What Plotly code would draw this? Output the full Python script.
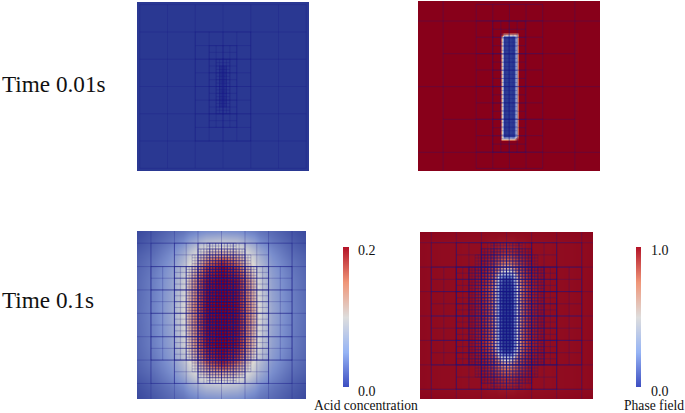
import plotly.graph_objects as go

W, H = 685, 413

# ---- field samples (normalised 0..1); rows run top to bottom ----
ACID_EARLY_X = [0, 1]
ACID_EARLY_Y = [0, 1]
ACID_EARLY_Z = [[0.0, 0.0], [0.0, 0.0]]

PHASE_EARLY_X = [0, .449, .460, .474, .530, .544, .556, 1]
PHASE_EARLY_Y = [0, .183, .198, .213, .795, .81, .825, 1]
PHASE_EARLY_Z = [
    [1, 1, 1, 1, 1, 1, 1, 1],
    [1, 1, 1, 1, 1, 1, 1, 1],
    [1, 1, .9, .58, .55, .55, 1, 1],
    [1, 1, .58, .02, 0, .55, 1, 1],
    [1, 1, .55, 0, .02, .58, 1, 1],
    [1, 1, .55, .55, .58, .9, 1, 1],
    [1, 1, 1, 1, 1, 1, 1, 1],
    [1, 1, 1, 1, 1, 1, 1, 1],
]

ACID_LATE_X = [0, .1, .2, .27, .31, .35, .38, .41, .5, .59, .62, .65, .69, .73, .8, .9, 1]
ACID_LATE_Y = [0, .06, .1, .14, .18, .22, .3, .49, .68, .76, .8, .84, .88, .92, 1]
ACID_LATE_Z = [
    [.05, .09, .14, .17, .20, .22, .24, .25, .26, .25, .24, .22, .20, .17, .14, .09, .05],
    [.07, .12, .18, .24, .30, .34, .37, .40, .42, .40, .37, .34, .30, .24, .18, .12, .07],
    [.09, .14, .22, .30, .37, .43, .47, .50, .53, .50, .47, .43, .37, .30, .22, .14, .09],
    [.11, .16, .25, .35, .44, .50, .54, .58, .64, .58, .54, .50, .44, .35, .25, .16, .11],
    [.12, .18, .27, .38, .47, .54, .60, .69, .88, .69, .60, .54, .47, .38, .27, .18, .12],
    [.13, .19, .29, .41, .51, .59, .69, .85, .97, .85, .69, .59, .51, .41, .29, .19, .13],
    [.14, .21, .31, .45, .57, .69, .82, .95, 1.0, .95, .82, .69, .57, .45, .31, .21, .14],
    [.15, .22, .33, .48, .61, .73, .85, .97, 1.0, .97, .85, .73, .61, .48, .33, .22, .15],
    [.14, .21, .31, .45, .57, .69, .82, .95, 1.0, .95, .82, .69, .57, .45, .31, .21, .14],
    [.13, .19, .29, .41, .51, .59, .69, .85, .97, .85, .69, .59, .51, .41, .29, .19, .13],
    [.12, .18, .27, .38, .47, .54, .60, .69, .88, .69, .60, .54, .47, .38, .27, .18, .12],
    [.11, .16, .25, .35, .44, .50, .54, .58, .64, .58, .54, .50, .44, .35, .25, .16, .11],
    [.09, .14, .22, .30, .37, .43, .47, .50, .53, .50, .47, .43, .37, .30, .22, .14, .09],
    [.07, .12, .18, .24, .30, .34, .37, .40, .42, .40, .37, .34, .30, .24, .18, .12, .07],
    [.05, .09, .14, .17, .20, .22, .24, .25, .26, .25, .24, .22, .20, .17, .14, .09, .05],
]

PHASE_LATE_X = [0, .30, .37, .41, .44, .465, .48, .52, .535, .56, .59, .63, .70, 1]
PHASE_LATE_Y = [0, .06, .12, .17, .21, .245, .28, .33, .5, .68, .72, .75, .785, .83, .88, .94, 1]
PHASE_LATE_Z = [
    [.99, .98, .98, .98, .98, .98, .98, .98, .98, .98, .98, .98, .98, .99],
    [.98, .97, .97, .96, .96, .95, .95, .95, .95, .96, .96, .97, .97, .98],
    [.98, .97, .97, .95, .93, .91, .90, .90, .91, .93, .95, .97, .97, .98],
    [.98, .97, .96, .92, .87, .82, .79, .79, .82, .86, .91, .96, .97, .98],
    [.98, .97, .95, .89, .80, .70, .64, .64, .70, .78, .87, .95, .97, .98],
    [.98, .97, .94, .86, .71, .50, .40, .40, .50, .68, .84, .94, .97, .98],
    [.98, .97, .93, .84, .62, .25, .05, .05, .25, .58, .81, .93, .97, .98],
    [.98, .97, .92, .81, .57, .10, 0, 0, .10, .52, .78, .92, .97, .98],
    [.98, .97, .92, .81, .57, .10, 0, 0, .10, .52, .78, .92, .97, .98],
    [.98, .97, .92, .81, .57, .10, 0, 0, .10, .52, .78, .92, .97, .98],
    [.98, .97, .93, .84, .62, .25, .05, .05, .25, .58, .81, .93, .97, .98],
    [.98, .97, .94, .86, .71, .50, .40, .40, .50, .68, .84, .94, .97, .98],
    [.98, .97, .95, .89, .80, .70, .64, .64, .70, .78, .87, .95, .97, .98],
    [.98, .97, .96, .92, .87, .82, .79, .79, .82, .86, .91, .96, .97, .98],
    [.98, .97, .97, .95, .93, .91, .90, .90, .91, .93, .95, .97, .97, .98],
    [.98, .97, .97, .96, .96, .95, .95, .95, .95, .96, .96, .97, .97, .98],
    [.99, .98, .98, .98, .98, .98, .98, .98, .98, .98, .98, .98, .98, .99],
]

# ---- adaptive mesh patches: x0, x1, y0, y1, x divisions, y divisions ----
MESH_ACID_EARLY = [
    (.016, .984, .016, .984, 6, 6),
    (.339, .661, .177, .823, 4, 8),
    (.42, .58, .258, .742, 4, 12),
    (.46, .54, .339, .661, 4, 16),
    (.48, .52, .38, .62, 4, 24),
]
MESH_PHASE_EARLY = [
    (0, 1, .118, .89, 0, 2),
    (.138, .862, 0, 1, 1, 0),
    (.138, .862, .31, .696, 0, 1),
    (.32, .685, .02, .985, 4, 10),
    (.41, .59, .118, .89, 4, 16),
    (.455, .545, .196, .81, 4, 26),
]
MESH_ACID_LATE = [
    (0, 1, .0724, .9076, 0, 1),
    (0, 1, .2116, .7684, 0, 4),
    (.2216, .7784, 0, 1, 4, 0),
    (.0824, .9176, 0, 1, 1, 0),
    (.0824, .9176, .0724, .9076, 6, 6),
    (.0824, .9176, .2116, .7684, 12, 8),
    (.2216, .7784, .0724, .9076, 8, 12),
    (.2216, .7784, .2116, .7684, 16, 16),
    (.3608, .6392, .0724, .9076, 8, 24),
    (.2912, .7088, .2116, .7684, 24, 32),
    (.326, .674, .142, .838, 20, 40),
    (.3608, .6392, .1072, .8728, 16, 44),
    (.413, .587, .0724, .9076, 10, 48),
]
MESH_PHASE_LATE = [
    (0, 1, .0638, .9422, 0, 1),
    (0, 1, .2102, .7958, 0, 4),
    (.2104, .7896, 0, 1, 4, 0),
    (.0656, .9344, 0, 1, 1, 0),
    (.0656, .9344, .0638, .9422, 6, 6),
    (.0656, .9344, .2102, .7958, 12, 8),
    (.2104, .7896, .0638, .9422, 8, 12),
    (.2104, .7896, .2102, .7958, 16, 16),
    (.3552, .6448, .0638, .9422, 8, 24),
    (.2828, .7172, .2102, .7958, 24, 32),
    (.319, .681, .137, .869, 20, 40),
    (.3552, .6448, .1004, .9056, 16, 44),
    (.4095, .5905, .0638, .9422, 10, 48),
]

BAR_VALUES = [[1.0], [.75], [.5], [.25], [0.0]]
ROW_LABELS = ["Time 0.01s", "Time 0.1s"]
ACID_TICKS = ["0.2", "0.0"]
PHASE_TICKS = ["1.0", "0.0"]
ACID_TITLE = "Acid concentration"
PHASE_TITLE = "Phase field"

FIELD_SCALE = [[0, "rgb(42,56,146)"], [.25, "rgb(122,142,205)"], [.5, "rgb(218,216,212)"],
               [.75, "rgb(214,112,84)"], [1, "rgb(136,0,26)"]]
BAR_SCALE = [[0, "rgb(59,76,192)"], [.25, "rgb(150,180,245)"], [.5, "rgb(221,221,221)"],
             [.75, "rgb(240,150,120)"], [1, "rgb(180,20,40)"]]
MESH_COLOR = "rgba(22,22,135,0.36)"


def fx(p):
    return p / W


def fy(p):
    return 1 - p / H


fig = go.Figure()

panels = [
    ("", (137, 309), (2, 171), ACID_EARLY_X, ACID_EARLY_Y, ACID_EARLY_Z, MESH_ACID_EARLY),
    ("2", (418, 600), (1, 171), PHASE_EARLY_X, PHASE_EARLY_Y, PHASE_EARLY_Z, MESH_PHASE_EARLY),
    ("3", (137, 306), (231, 399), ACID_LATE_X, ACID_LATE_Y, ACID_LATE_Z, MESH_ACID_LATE),
    ("4", (420, 593), (232, 399), PHASE_LATE_X, PHASE_LATE_Y, PHASE_LATE_Z, MESH_PHASE_LATE),
]

layout = {}
for suf, (px0, px1), (py0, py1), xs, ys, zs, mesh in panels:
    xref, yref = "x" + suf, "y" + suf
    fig.add_trace(go.Heatmap(x=xs, y=ys, z=zs, xaxis=xref, yaxis=yref, zmin=0, zmax=1,
                             colorscale=FIELD_SCALE, zsmooth="best", showscale=False,
                             hoverinfo="skip"))
    lx, ly = [], []
    for x0, x1, y0, y1, nx, ny in mesh:
        if nx:
            for i in range(nx + 1):
                v = x0 + (x1 - x0) * i / nx
                lx += [v, v, None]
                ly += [y0, y1, None]
        if ny:
            for j in range(ny + 1):
                v = y0 + (y1 - y0) * j / ny
                lx += [x0, x1, None]
                ly += [v, v, None]
    fig.add_trace(go.Scatter(x=lx, y=ly, xaxis=xref, yaxis=yref, mode="lines",
                             line=dict(color=MESH_COLOR, width=0.7), hoverinfo="skip",
                             showlegend=False))
    layout["xaxis" + suf] = dict(domain=[fx(px0), fx(px1)], range=[0, 1], visible=False,
                                 anchor=yref, fixedrange=True)
    layout["yaxis" + suf] = dict(domain=[fy(py1), fy(py0)], range=[1, 0], visible=False,
                                 anchor=xref, fixedrange=True)

for suf, (px0, px1) in (("5", (343, 349)), ("6", (636, 641))):
    xref, yref = "x" + suf, "y" + suf
    fig.add_trace(go.Heatmap(z=BAR_VALUES, y=[1, .75, .5, .25, 0], x=[0], xaxis=xref, yaxis=yref,
                             zmin=0, zmax=1, colorscale=BAR_SCALE, zsmooth="best",
                             showscale=False, hoverinfo="skip"))
    layout["xaxis" + suf] = dict(domain=[fx(px0), fx(px1)], visible=False, anchor=yref,
                                 fixedrange=True)
    layout["yaxis" + suf] = dict(domain=[fy(387), fy(247)], range=[0, 1], visible=False,
                                 anchor=xref, fixedrange=True)

SERIF = "Liberation Serif, Times New Roman, serif"
texts = [
    (ROW_LABELS[0], 54, 84, 23.2),
    (ROW_LABELS[1], 47.5, 300, 23.2),
    (ACID_TICKS[0], 367.5, 250, 14),
    (ACID_TICKS[1], 367.5, 391, 14),
    (PHASE_TICKS[0], 660, 250, 14),
    (PHASE_TICKS[1], 660, 391, 14),
    (ACID_TITLE, 365.5, 405, 13.6),
    (PHASE_TITLE, 654, 405, 13.6),
]
annotations = [dict(text=t, x=fx(px), y=fy(py), xref="paper", yref="paper", showarrow=False,
                    xanchor="center", yanchor="middle", borderpad=0, borderwidth=0,
                    font=dict(family=SERIF, size=s, color="#111111"))
               for t, px, py, s in texts]

fig.update_layout(width=W, height=H, margin=dict(l=0, r=0, t=0, b=0), paper_bgcolor="white",
                  plot_bgcolor="white", showlegend=False, annotations=annotations, **layout)

fig.write_html("out.html", config={"displayModeBar": False},
               post_script="document.body.style.margin='0';document.body.style.overflow='hidden';")
